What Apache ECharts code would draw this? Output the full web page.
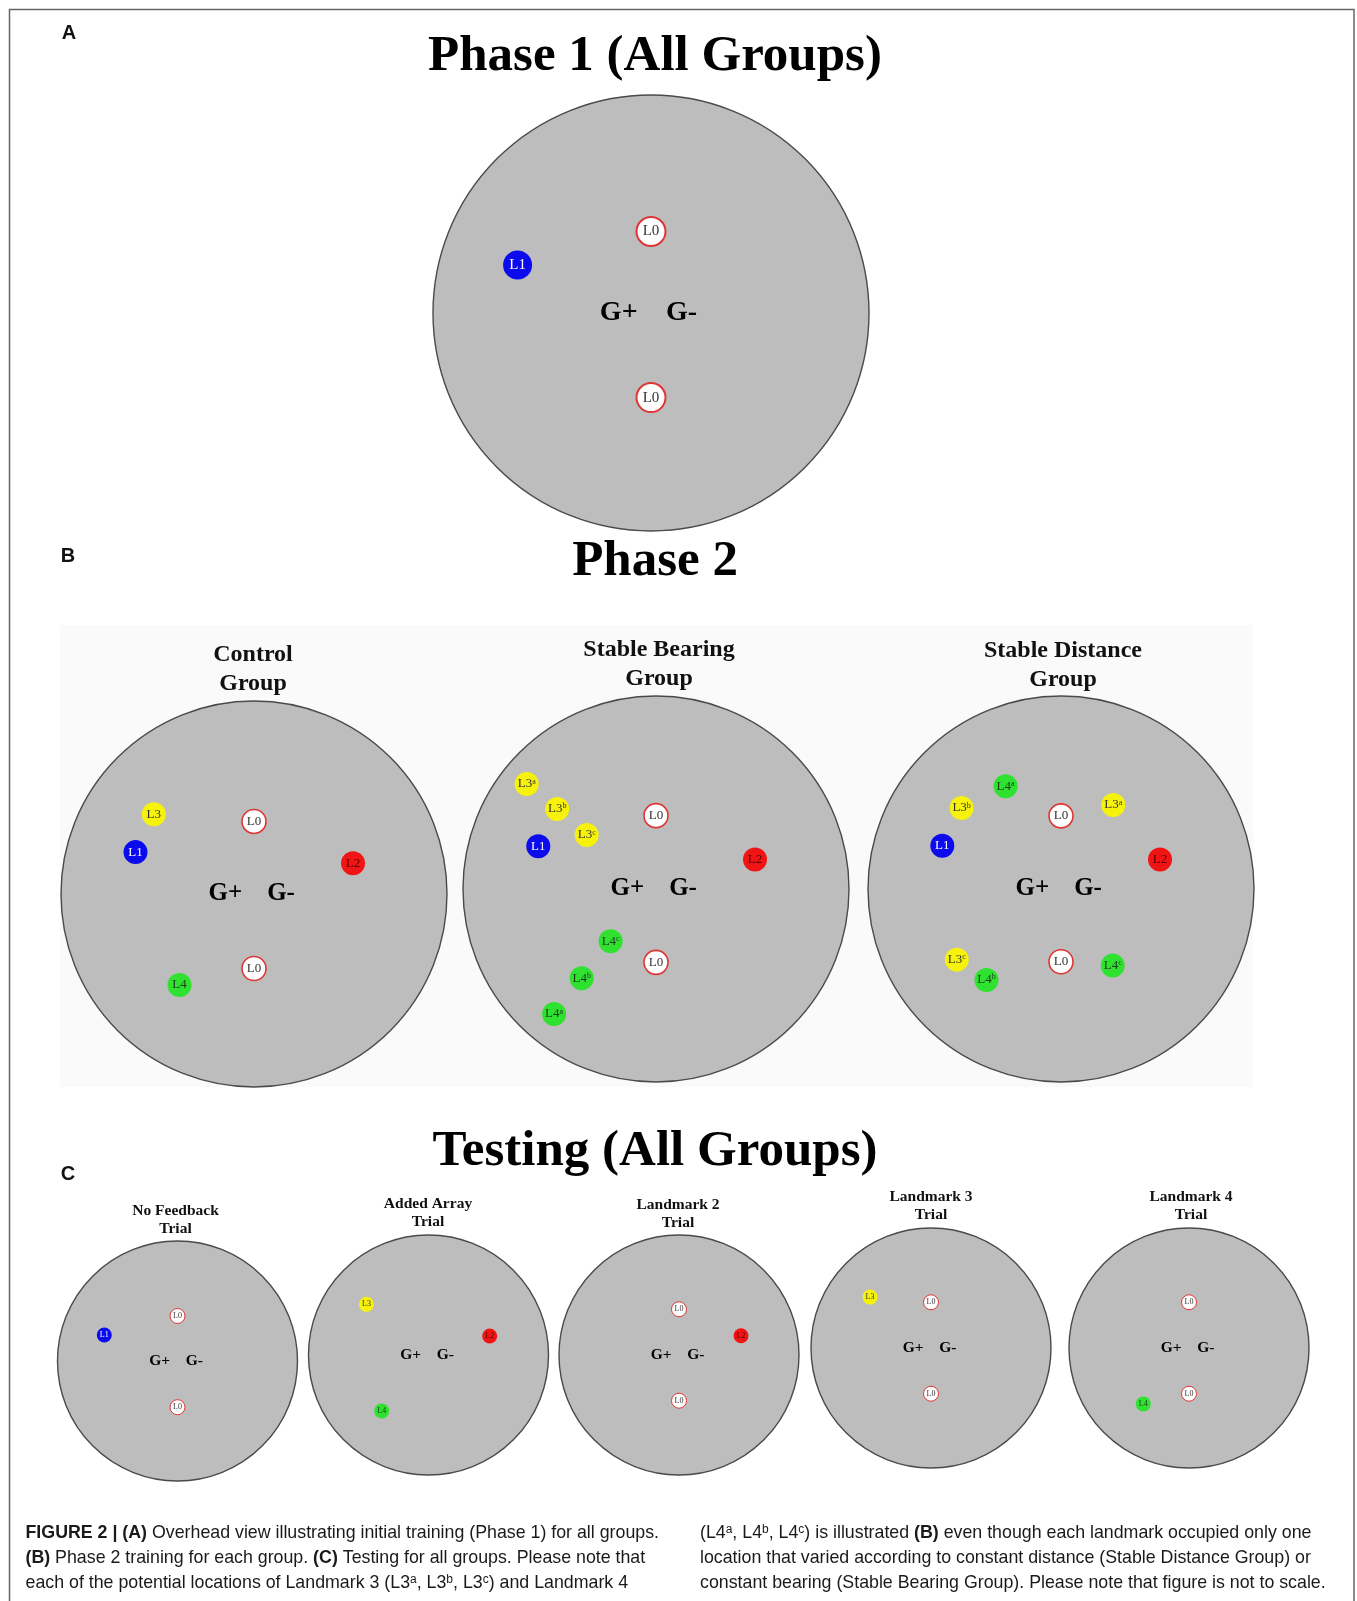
<!DOCTYPE html>
<html><head><meta charset="utf-8">
<script src="https://cdn.jsdelivr.net/npm/echarts@6/dist/echarts.min.js"></script>
<style>html,body{margin:0;padding:0;background:#fff}#c{width:1357px;height:1601px}</style>
</head><body><div id="c"></div>
<script>
// ---------- DATA (arena-relative positions: centre = 0,0, radius = 1, y up) ----------
// each landmark: [type, superscript, x, y]
const phase1Landmarks = [["L0","",0,0.374],["L0","",0,-0.388],["L1","",-0.612,0.22]];
const controlLandmarks = [["L3","",-0.519,0.413],["L0","",0,0.376],["L1","",-0.614,0.217],["L2","",0.513,0.159],["L4","",-0.386,-0.471],["L0","",0,-0.386]];
const bearingLandmarks = [["L3","a",-0.67,0.544],["L3","b",-0.512,0.415],["L3","c",-0.359,0.28],["L0","",0,0.38],["L1","",-0.61,0.221],["L2","",0.513,0.153],["L4","c",-0.235,-0.271],["L0","",0,-0.38],["L4","b",-0.385,-0.463],["L4","a",-0.528,-0.648]];
const distanceLandmarks = [["L4","a",-0.287,0.532],["L3","b",-0.515,0.42],["L0","",0,0.379],["L3","a",0.271,0.435],["L1","",-0.615,0.224],["L2","",0.513,0.153],["L3","c",-0.54,-0.366],["L4","b",-0.386,-0.471],["L0","",0,-0.377],["L4","c",0.268,-0.397]];
const noFeedbackLandmarks = [["L0","",0,0.375],["L1","",-0.61,0.217],["L0","",0,-0.385]];
const addedArrayLandmarks = [["L3","",-0.517,0.422],["L2","",0.51,0.158],["L4","",-0.39,-0.466]];
const landmark2Landmarks = [["L0","",0,0.381],["L2","",0.517,0.161],["L0","",0,-0.381]];
const landmark3Landmarks = [["L3","",-0.508,0.424],["L0","",0,0.381],["L0","",0,-0.381]];
const landmark4Landmarks = [["L0","",0,0.381],["L4","",-0.381,-0.466],["L0","",0,-0.381]];
const goalMarks = [["G+",-0.148,0],["G-",0.14,0]];

const phaseTitles = ["Phase 1 (All Groups)","Phase 2","Testing (All Groups)"];
const panelLetters = ["A","B","C"];
const groupTitles = [["Control","Group"],["Stable Bearing","Group"],["Stable Distance","Group"]];
const trialTitles = [["No Feedback","Trial"],["Added Array","Trial"],["Landmark 2","Trial"],["Landmark 3","Trial"],["Landmark 4","Trial"]];

const captionLeft = [
 "{b|FIGURE 2 | (A)} Overhead view illustrating initial training (Phase 1) for all groups.",
 "{b|(B)} Phase 2 training for each group. {b|(C)} Testing for all groups. Please note that",
 "each of the potential locations of Landmark 3 (L3{s|a}, L3{s|b}, L3{s|c}) and Landmark 4"
];
const captionRight = [
 "(L4{s|a}, L4{s|b}, L4{s|c}) is illustrated {b|(B)} even though each landmark occupied only one",
 "location that varied according to constant distance (Stable Distance Group) or",
 "constant bearing (Stable Bearing Group). Please note that figure is not to scale."
];

// ---------- STYLE / LAYOUT ----------
const SERIF = '"Liberation Serif","DejaVu Serif",serif';
const SANS = '"Liberation Sans",Arial,sans-serif';
const COLORS = {L0:'#ffffff', L1:'#0b0bee', L2:'#f01414', L3:'#f6f20c', L4:'#2fe22f'};
const TEXTC = {L0:'#333333', L1:'#ffffff', L2:'#5a0000', L3:'#333333', L4:'#1d3a1d'};

const big = {size:29, font:15, gfont:28, bw:2};
const mid = {size:24, font:13, gfont:25, bw:1.6};
const sm  = {size:15, font:8,  gfont:15.5, bw:1};
const panels = [
 Object.assign({data:phase1Landmarks, cx:651, cy:313, r:218}, big),
 Object.assign({data:controlLandmarks, cx:254, cy:894, r:193}, mid),
 Object.assign({data:bearingLandmarks, cx:656, cy:889, r:193}, mid),
 Object.assign({data:distanceLandmarks, cx:1061, cy:889, r:193}, mid),
 Object.assign({data:noFeedbackLandmarks, cx:177.5, cy:1361, r:120}, sm),
 Object.assign({data:addedArrayLandmarks, cx:428.5, cy:1355, r:120}, sm),
 Object.assign({data:landmark2Landmarks, cx:679, cy:1355, r:120}, sm),
 Object.assign({data:landmark3Landmarks, cx:931, cy:1348, r:120}, sm),
 Object.assign({data:landmark4Landmarks, cx:1189, cy:1348, r:120}, sm)
];

const grid=[], xAxis=[], yAxis=[], series=[];
panels.forEach((p,i)=>{
  grid.push({left:p.cx-p.r, top:p.cy-p.r, width:2*p.r, height:2*p.r, containLabel:false});
  xAxis.push({gridIndex:i, type:'value', min:-1, max:1, show:false});
  yAxis.push({gridIndex:i, type:'value', min:-1, max:1, show:false});
  series.push({
    type:'custom', xAxisIndex:i, yAxisIndex:i, data:[[0,0]], silent:true, z:1,
    renderItem:(params, api)=>{
      const c = api.coord([0,0]); const e = api.coord([1,0]);
      return {type:'circle', shape:{cx:c[0], cy:c[1], r:e[0]-c[0]},
        style:{fill:'#bdbdbd', stroke:'#4a4a4a', lineWidth:1.4}};
    }
  });
  series.push({
    type:'scatter', xAxisIndex:i, yAxisIndex:i, z:3, silent:true, symbolSize:p.size,
    data:p.data.map(d=>({
      name:d[0], sup:d[1], value:[d[2],d[3]],
      itemStyle:{color:COLORS[d[0]], borderColor:d[0]==='L0'?'#e03535':COLORS[d[0]], borderWidth:d[0]==='L0'?p.bw:0, opacity:1},
      label:{color:TEXTC[d[0]], rich:{s:{fontSize:Math.round(p.font*0.62), fontFamily:SERIF, color:TEXTC[d[0]], verticalAlign:'top', lineHeight:p.font}}}
    })),
    label:{show:true, position:'inside', fontFamily:SERIF, fontSize:p.font, lineHeight:p.font,
      formatter:(q)=> q.data.sup ? q.data.name + '{s|' + q.data.sup + '}' : q.data.name}
  });
  const gf = p.gfont;
  series.push({
    type:'custom', xAxisIndex:i, yAxisIndex:i, z:4, silent:true,
    data:goalMarks.map(gm=>[gm[1],gm[2],gm[0]]),
    dimensions:['x','y',{name:'t', type:'ordinal'}],
    renderItem:(params, api)=>{
      const pt = api.coord([api.value(0), api.value(1)]);
      return {type:'text', x:pt[0], y:pt[1], style:{text:goalMarks[params.dataIndex][0], fontFamily:SERIF, fontWeight:'bold', fontSize:gf, fill:'#000', align:'center', verticalAlign:'middle'}};
    }
  });
});

// ---------- GRAPHIC TEXT ----------
const g = [];
g.push({type:'rect', z:-10, shape:{x:9.5, y:9.5, width:1344.5, height:1640}, style:{fill:'none', stroke:'#666', lineWidth:1.5}});
g.push({type:'rect', z:-9, shape:{x:60, y:625, width:1193, height:462}, style:{fill:'#fafafa'}});
function txt(t, x, y, size, family, weight, color){
  g.push({type:'text', x:x, y:y, style:{text:t, fontSize:size, fontFamily:family, fontWeight:weight, fill:color||'#111', align:'center', verticalAlign:'middle'}});
}
const letterPos = [[69,33],[68,556],[68,1174]];
panelLetters.forEach((l,i)=>txt(l, letterPos[i][0], letterPos[i][1], 20, SANS, 'bold', '#111'));
const titlePos = [[655,57],[655,562],[655,1152]];
phaseTitles.forEach((t,i)=>txt(t, titlePos[i][0], titlePos[i][1], 51, SERIF, 'bold', '#000'));
const groupPos = [[253,655],[659,650],[1063,651]];
groupTitles.forEach((t,i)=>{ txt(t[0], groupPos[i][0], groupPos[i][1], 24, SERIF, 'bold', '#111'); txt(t[1], groupPos[i][0], groupPos[i][1]+28.5, 24, SERIF, 'bold', '#111'); });
const trialPos = [[175.5,1211],[428,1204],[678,1205],[931,1197],[1191,1197]];
trialTitles.forEach((t,i)=>{ txt(t[0], trialPos[i][0], trialPos[i][1], 15.5, SERIF, 'bold', '#111'); txt(t[1], trialPos[i][0], trialPos[i][1]+17.5, 15.5, SERIF, 'bold', '#111'); });

const capRich = {b:{fontWeight:'bold', fontSize:17.8, fontFamily:SANS, fill:'#1a1a1a'}, s:{fontSize:12, fontFamily:SANS, verticalAlign:'top', lineHeight:17}};
function cap(t, x, y){
  g.push({type:'text', x:x, y:y, style:{text:t, fontSize:17.8, fontFamily:SANS, fill:'#1a1a1a', align:'left', verticalAlign:'middle', lineHeight:19, rich:capRich}});
}
captionLeft.forEach((t,i)=>cap(t, 25.5, 1533 + i*25));
captionRight.forEach((t,i)=>cap(t, 700, 1533 + i*25));

const chart = echarts.init(document.getElementById('c'), null, {renderer:'canvas'});
chart.setOption({animation:false, backgroundColor:'#ffffff', grid, xAxis, yAxis, series, graphic:{elements:g}});
</script></body></html>
